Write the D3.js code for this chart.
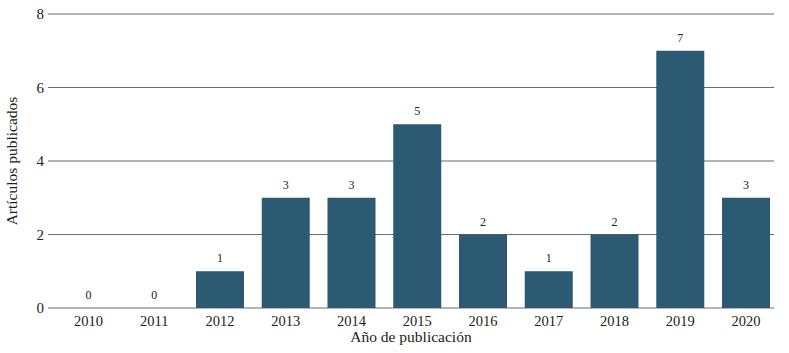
<!DOCTYPE html>
<html>
<head>
<meta charset="utf-8">
<script src="https://cdn.jsdelivr.net/npm/d3@7"></script>
<style>
  body { margin: 0; background: #fff; }
  text { font-family: "Liberation Serif", "DejaVu Serif", serif; fill: #222; }
</style>
</head>
<body>
<div id="chart"></div>
<script>
// Data
const years = ["2010", "2011", "2012", "2013", "2014", "2015", "2016", "2017", "2018", "2019", "2020"];
const articles = [0, 0, 1, 3, 3, 5, 2, 1, 2, 7, 3];
const yTicks = [0, 2, 4, 6, 8];

const data = years.map((y, i) => ({ year: y, value: articles[i] }));

const width = 789, height = 353;
const plot = { left: 48, right: 774, top: 14, bottom: 308 };

const svg = d3.select("#chart")
    .append("svg")
    .attr("width", width)
    .attr("height", height);

// Scales
const x = d3.scaleBand()
    .domain(years)
    .range([55.6, 778.9])
    .paddingInner(0.27)
    .paddingOuter(0.135);

const y = d3.scaleLinear()
    .domain([0, 8])
    .range([plot.bottom, plot.top]);

// Gridlines + y tick labels
yTicks.forEach(t => {
    svg.append("line")
        .attr("x1", plot.left)
        .attr("x2", plot.right)
        .attr("y1", y(t))
        .attr("y2", y(t))
        .attr("stroke", "#6b6b6b")
        .attr("stroke-width", 1);

    svg.append("text")
        .attr("x", plot.left - 4)
        .attr("y", y(t))
        .attr("dy", "0.35em")
        .attr("text-anchor", "end")
        .style("font-size", "15px")
        .text(t);
});

// Bars
svg.selectAll(".bar")
    .data(data)
    .enter()
    .append("rect")
    .attr("class", "bar")
    .attr("x", d => x(d.year))
    .attr("y", d => y(d.value))
    .attr("width", x.bandwidth())
    .attr("height", d => y(0) - y(d.value))
    .attr("fill", "#2c5a72");

// Value labels
svg.selectAll(".val")
    .data(data)
    .enter()
    .append("text")
    .attr("class", "val")
    .attr("x", d => x(d.year) + x.bandwidth() / 2)
    .attr("y", d => y(d.value) - 9)
    .attr("text-anchor", "middle")
    .style("font-size", "12px")
    .text(d => d.value);

// x tick labels
svg.selectAll(".xt")
    .data(years)
    .enter()
    .append("text")
    .attr("class", "xt")
    .attr("x", d => x(d) + x.bandwidth() / 2)
    .attr("y", 326)
    .attr("text-anchor", "middle")
    .style("font-size", "14.5px")
    .text(d => d);

// Axis titles
svg.append("text")
    .attr("x", (plot.left + plot.right) / 2)
    .attr("y", 342)
    .attr("text-anchor", "middle")
    .style("font-size", "15.5px")
    .text("Año de publicación");

svg.append("text")
    .attr("transform", "rotate(-90)")
    .attr("x", -(plot.top + plot.bottom) / 2)
    .attr("y", 17)
    .attr("text-anchor", "middle")
    .style("font-size", "15.5px")
    .text("Artículos publicados");
</script>
</body>
</html>
